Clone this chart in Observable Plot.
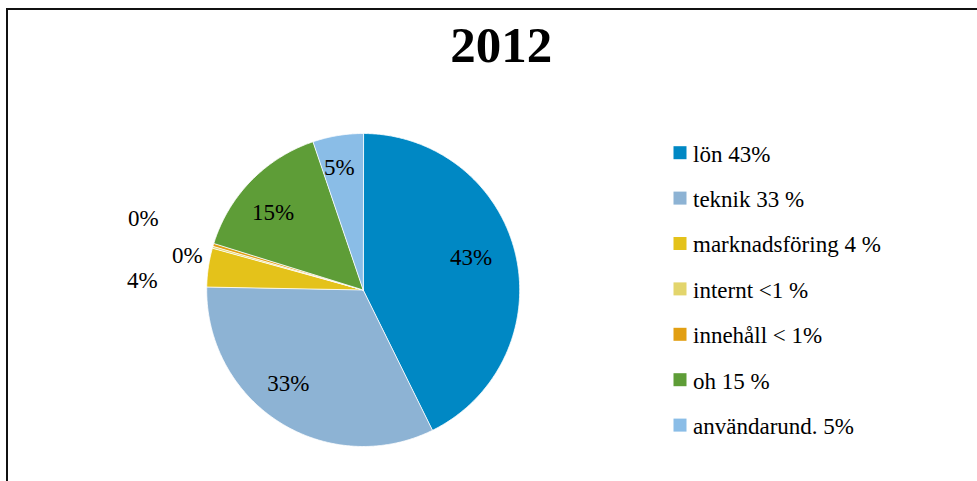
<!DOCTYPE html>
<html>
<head>
<meta charset="utf-8">
<script src="https://cdn.jsdelivr.net/npm/d3@7"></script>
<script src="https://cdn.jsdelivr.net/npm/@observablehq/plot@0.6"></script>
<style>
  html, body { margin: 0; padding: 0; }
  #wrap { position: relative; width: 977px; height: 481px; overflow: hidden; }
  #border { position: absolute; left: 6px; top: 8px; width: 990px; height: 490px;
            border-top: 2px solid #111; border-left: 2px solid #111; pointer-events: none; }
</style>
</head>
<body>
<div id="wrap"></div>
<script>
// ---- data ----
const categories = ["lön", "teknik", "marknadsföring", "internt", "innehåll", "oh", "användarund."];
const values = [42.7, 32.6, 4.0, 0.2, 0.3, 15.0, 5.2];
const legendLabels = ["lön 43%", "teknik 33 %", "marknadsföring 4 %", "internt <1 %", "innehåll < 1%", "oh 15 %", "användarund. 5%"];
const colors = ["#0088C4", "#8DB3D4", "#E4C21A", "#E3D56C", "#E29F12", "#5E9D37", "#8ABDE7"];
const title = "2012";

// ---- layout (label placement like Excel's best-fit) ----
const labelRadius = [0.72, 0.766, 1.413, 1.478, 1.146, 0.759, 0.798];
const labelShiftDeg = [-3.6, 6.3, -5.8, 2.2, -5.6, -3.6, -1.7];
const cx = 362.7, cy = 289.5, R = 156.5;
const font = "Liberation Serif";

const rows = categories.map((name, i) => ({name, value: values[i], i}));
const arcs = d3.pie().sort(null).value(d => d.value)(rows);

// polygon points per slice
const polyPts = [];
for (const a of arcs) {
  const n = Math.max(2, Math.ceil((a.endAngle - a.startAngle) / (Math.PI / 360)));
  polyPts.push({name: a.data.name, x: cx, y: cy});
  for (let k = 0; k <= n; k++) {
    const t = a.startAngle + (a.endAngle - a.startAngle) * k / n;
    polyPts.push({name: a.data.name, x: cx + R * Math.sin(t), y: cy - R * Math.cos(t)});
  }
}

const labels = arcs.map((a, i) => {
  const mid = (a.startAngle + a.endAngle) / 2 + labelShiftDeg[i] * Math.PI / 180;
  const r = R * labelRadius[i];
  return {text: Math.round(a.data.value) + "%", x: cx + r * Math.sin(mid), y: cy - r * Math.cos(mid)};
});

const legX = 673.5, legTop = 152.7, legStep = 45.4, sq = 13;
const legend = categories.map((name, i) => ({
  name, label: legendLabels[i], yc: legTop + i * legStep
}));

const chart = Plot.plot({
  width: 977,
  height: 481,
  margin: 0,
  x: {domain: [0, 977], range: [0, 977], axis: null},
  y: {domain: [0, 481], range: [0, 481], axis: null},
  color: {domain: categories, range: colors},
  marks: [
    Plot.line(polyPts, {x: "x", y: "y", z: "name", fill: "name", stroke: "white", strokeWidth: 0.8, curve: "linear-closed"}),
    Plot.text(labels, {x: "x", y: "y", text: "text", fontSize: 23, fontFamily: font}),
    Plot.rect(legend, {x1: () => legX, x2: () => legX + sq, y1: d => d.yc - sq / 2, y2: d => d.yc + sq / 2, fill: "name"}),
    Plot.text(legend, {x: () => legX + sq + 6, y: d => d.yc + 8.3, text: "label", textAnchor: "start", lineAnchor: "bottom", fontSize: 23, fontFamily: font}),
    Plot.text([title], {frameAnchor: "top", dx: 12.3, dy: 61.7, text: d => d, lineAnchor: "bottom", fontSize: 51, fontWeight: "bold", fontFamily: font})
  ]
});
chart.setAttribute("font-family", font);
chart.querySelectorAll("text").forEach(t => {
  t.setAttribute("font-family", font);
  t.style.setProperty("font-family", "'Liberation Serif'");
});
const wrap = document.getElementById("wrap");
wrap.append(chart);
const border = document.createElement("div");
border.id = "border";
wrap.append(border);
</script>
</body>
</html>
